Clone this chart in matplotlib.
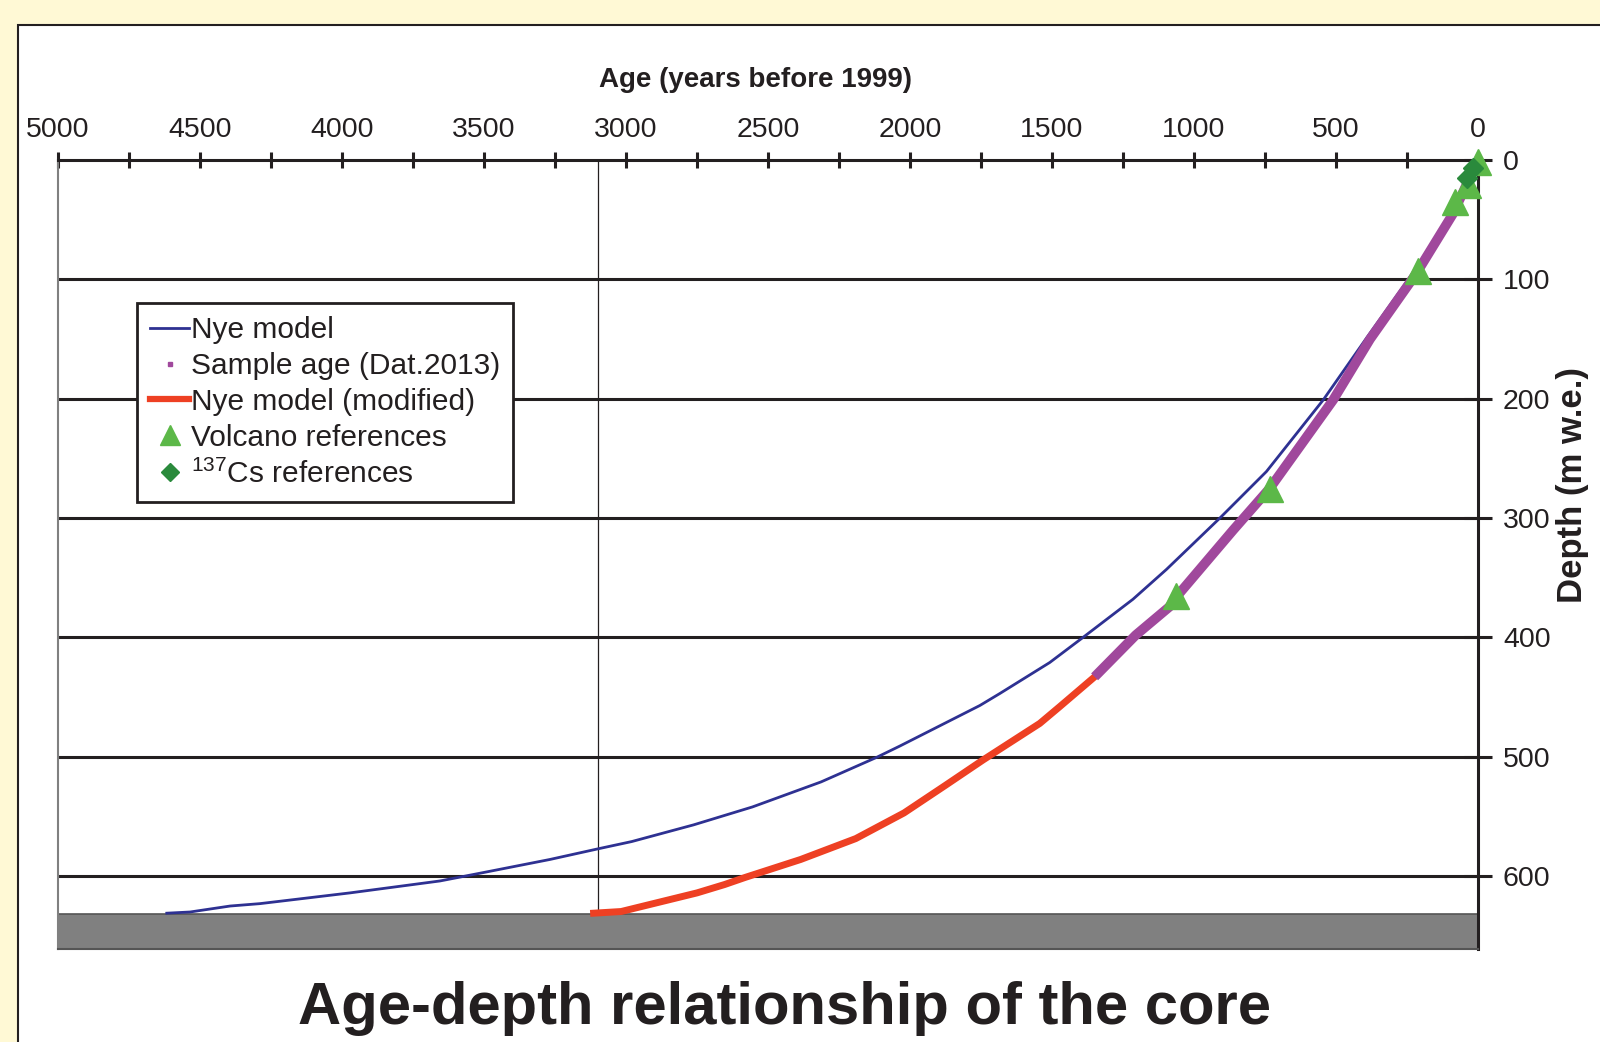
import matplotlib
matplotlib.use('Agg')
import matplotlib.pyplot as plt
from matplotlib.lines import Line2D
from matplotlib.patches import Rectangle

plt.rcParams['font.family'] = ['Liberation Sans', 'DejaVu Sans']
plt.rcParams['mathtext.fontset'] = 'custom'
plt.rcParams['mathtext.rm'] = 'Liberation Sans'
plt.rcParams['mathtext.default'] = 'regular'

# Nye model
nye_age = [0, 95, 230, 395, 545, 745, 909, 1097, 1215, 1391, 1508, 1684, 1754, 2036, 2118,
           2313, 2555, 2762, 2980, 3097, 3268, 3503, 3655, 3972, 4289, 4394, 4535, 4617]
nye_depth = [0, 45, 95, 150, 201, 261, 300, 343, 368, 400, 421, 447, 457, 491, 500.5,
             521, 542, 557, 571, 577, 586, 597, 604, 614, 623, 625, 630, 631]

# Nye model (modified)
mod_age = [3114, 3017, 2750, 2653, 2580, 2385, 2191, 2021, 1876, 1742, 1543, 1473, 1350,
           1205, 1085, 1062, 862, 733, 510, 380, 217, 88, 0]
mod_depth = [631, 629.6, 614, 607, 601, 586, 568.5, 547, 524, 502.5, 472, 458, 433,
             398, 374, 366, 310, 275, 201, 150, 95, 45, 0]

# sample age (Dat.2013)
smp_age = [1350, 1205, 1085, 1062, 862, 733, 510, 380, 217, 88, 0]
smp_depth = [433, 398, 374, 366, 310, 275, 201, 150, 95, 45, 0]

volc_age = [0, 35, 82, 211, 733, 1065]
volc_depth = [2, 21, 35, 93, 276, 365]

cs_age = [18, 38]
cs_depth = [7, 15]

bedrock = 632
ymax = 661
line_age = 3100

blue = '#2e3192'
red = '#ee4023'
purple = '#a0489c'
lgreen = '#5cb848'
dgreen = '#2a8a3c'
ink = '#231f20'

fig = plt.figure(figsize=(16, 10.42), dpi=100, facecolor='#fff9d5')
fig.patches.append(Rectangle((18 / 1600, -0.1), 1.2, 1 - 25 / 1042 + 0.1,
                             transform=fig.transFigure, facecolor='white',
                             edgecolor=ink, lw=1.5, zorder=-10))

ax = fig.add_axes([58 / 1600, 1 - 949 / 1042, 1420 / 1600, 789 / 1042])
ax.set_zorder(1)
ax.set_xlim(5000, 0)
ax.set_ylim(ymax, 0)

ax.axhspan(bedrock, ymax, facecolor='#808080', edgecolor='#555555', lw=1.2, zorder=1)
for d in [100, 200, 300, 400, 500, 600]:
    ax.axhline(d, color=ink, lw=2.2, zorder=1)
ax.vlines(line_age, 0, bedrock, color=ink, lw=0.9, zorder=1)

ax.plot(nye_age, nye_depth, color=blue, lw=2, zorder=3)
ax.plot(mod_age, mod_depth, color=red, lw=5, zorder=2)
ax.plot(smp_age, smp_depth, color=purple, lw=7, solid_capstyle='butt', zorder=4)
ax.plot(volc_age, volc_depth, ls='none', marker='^', ms=19, color=lgreen, zorder=5,
        clip_on=False)
ax.plot(cs_age, cs_depth, ls='none', marker='D', ms=10, color=dgreen, zorder=6,
        clip_on=False)

ax.xaxis.tick_top()
ax.xaxis.set_label_position('top')
ax.set_xticks(range(0, 5001, 500))
ax.set_xticks(range(250, 5000, 500), minor=True)
ax.tick_params(axis='x', which='both', direction='inout', length=11, width=2.2,
               color=ink, labelsize=20.5, pad=7, labelcolor=ink)
ax.set_xlabel('Age (years before 1999)', fontsize=20, fontweight='bold', color=ink)
ax.xaxis.set_label_coords(0.491, 1.093)

ax.yaxis.tick_right()
ax.yaxis.set_label_position('right')
ax.set_yticks(range(0, 601, 100))
ax.tick_params(axis='y', direction='inout', length=20, width=2.2, color=ink,
               labelsize=20.5, pad=8, labelcolor=ink)
ax.set_ylabel('Depth (m w.e.)', fontsize=25, fontweight='bold', color=ink, rotation=90)
ax.yaxis.set_label_coords(1.055, 0.588)

ax.spines['top'].set_linewidth(2.2)
ax.spines['top'].set_color(ink)
ax.spines['right'].set_linewidth(2.2)
ax.spines['right'].set_color(ink)
ax.spines['left'].set_linewidth(1.5)
ax.spines['left'].set_color('#808080')
ax.spines['bottom'].set_linewidth(1.5)
ax.spines['bottom'].set_color('#555555')

handles = [
    Line2D([], [], color=blue, lw=2),
    Line2D([], [], ls='none', marker='s', ms=3.5, color=purple),
    Line2D([], [], color=red, lw=4.5),
    Line2D([], [], ls='none', marker='^', ms=14, color=lgreen),
    Line2D([], [], ls='none', marker='D', ms=9, color=dgreen),
]
labels = ['Nye model', 'Sample age (Dat.2013)', 'Nye model (modified)',
          'Volcano references', '$^{137}$Cs references']
leg = ax.legend(handles, labels, loc='upper left', bbox_to_anchor=(0.0556, 0.8188),
                borderaxespad=0, fontsize=21.5, frameon=True, fancybox=False,
                framealpha=1, edgecolor=ink, handlelength=1.3, handletextpad=0.05,
                labelspacing=0.26, borderpad=0.45)
leg.get_frame().set_linewidth(2)
for t in leg.get_texts():
    t.set_color(ink)

fig.text(784 / 1600, 1 - 1008 / 1042, 'Age-depth relationship of the core',
         fontweight='bold', fontsize=43, ha='center', va='center', color=ink)

fig.savefig('out.png', dpi=100, facecolor=fig.get_facecolor())
